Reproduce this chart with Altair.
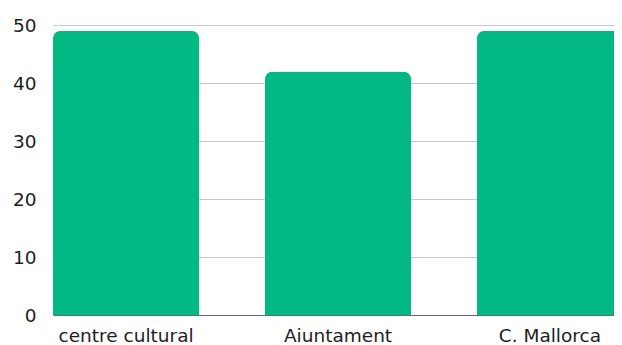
import altair as alt
import pandas as pd

categories = ["centre cultural", "Aiuntament", "C. Mallorca"]
values = [49, 42, 49]

df = pd.DataFrame({"cat": categories, "val": values})

FONT = "DejaVu Sans"

chart = alt.Chart(df).mark_bar(
    color="#02B883",
    cornerRadiusTopLeft=8,
    cornerRadiusTopRight=8,
).encode(
    x=alt.X("cat:N", sort=categories, title=None,
            scale=alt.Scale(paddingInner=0.31, paddingOuter=0),
            axis=alt.Axis(labelAngle=0, labelFont=FONT, labelFontSize=18.5,
                          labelColor="#1e1e1e", ticks=False, domain=True,
                          domainColor="#666666", domainWidth=1,
                          labelPadding=11, grid=False)),
    y=alt.Y("val:Q", title=None,
            scale=alt.Scale(domain=[0, 50]),
            axis=alt.Axis(values=[0, 10, 20, 30, 40, 50], labelFont=FONT,
                          labelFontSize=18.5, labelColor="#1e1e1e", ticks=False,
                          domain=False, gridColor="#c8c8c8", gridWidth=1,
                          labelPadding=17)),
).properties(
    width=570,
    height=290,
    autosize=alt.AutoSizeParams(type="none"),
    padding={"left": 45, "top": 17, "right": -9, "bottom": 32},
).configure_view(stroke=None)

chart.save("out.html", embed_options={"renderer": "svg", "actions": False})
